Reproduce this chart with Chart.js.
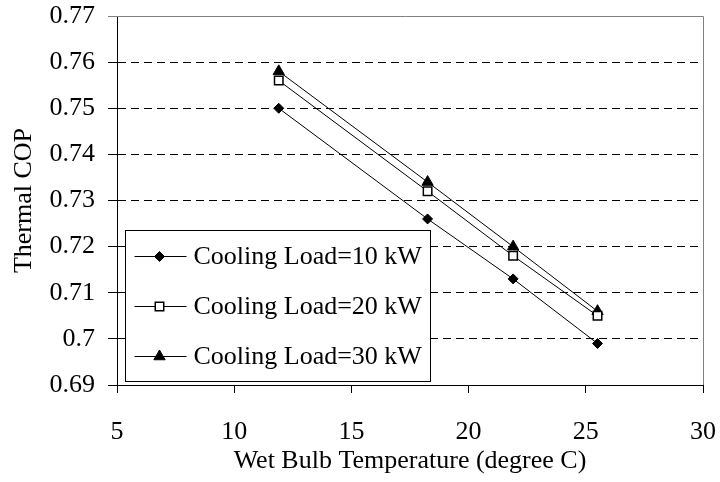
<!DOCTYPE html>
<html>
<head>
<meta charset="utf-8">
<script src="https://cdn.jsdelivr.net/npm/chart.js@4.4.1/dist/chart.umd.min.js"></script>
<style>
  body { margin: 0; background: #fff; }
  #chart_cop { display: block; }
</style>
</head>
<body>
<canvas id="chart_cop" width="720" height="482"></canvas>
<script>
// Thermal COP against wet bulb temperature, one line per cooling load
const wetBulb = [11.9, 18.25, 21.9, 25.5];
const load10 = [0.750, 0.726, 0.713, 0.699];
const load20 = [0.756, 0.732, 0.718, 0.705];
const load30 = [0.758, 0.734, 0.720, 0.706];
const seriesNames = ['Cooling Load=10 kW', 'Cooling Load=20 kW', 'Cooling Load=30 kW'];
const xTicks = [5, 10, 15, 20, 25, 30];
const yTicks = [0.69, 0.70, 0.71, 0.72, 0.73, 0.74, 0.75, 0.76, 0.77];

const FONT = 'Liberation Serif, Times New Roman, serif';

function points(ys) {
    return wetBulb.map((x, i) => ({x: x, y: ys[i]}));
}

function series(name, ys, style, radius, fill, bw) {
    return {
        label: name,
        data: points(ys),
        borderColor: '#000',
        borderWidth: 1,
        pointStyle: style,
        pointRadius: radius,
        pointBorderWidth: bw,
        pointBackgroundColor: fill,
        pointBorderColor: '#000',
        tension: 0
    };
}

// tick label overflow is not wanted, layout padding places the plot
function noOverflow(s) {
    s.paddingTop = 0;
    s.paddingBottom = 0;
    s.paddingLeft = 0;
    s.paddingRight = 0;
}

// gray frame on top and right like excel plot area
const frame = {
    id: 'frame',
    beforeDatasetsDraw(chart) {
        const {ctx, chartArea: a} = chart;
        const top = Math.round(a.top) + 0.5, right = Math.round(a.right) + 0.5;
        ctx.save();
        ctx.strokeStyle = '#808080';
        ctx.lineWidth = 1;
        ctx.beginPath();
        ctx.moveTo(a.left - 9, top);
        ctx.lineTo(right, top);
        ctx.lineTo(right, a.bottom);
        ctx.stroke();
        ctx.restore();
    }
};

// legend box inside the plot, bottom left
const legendBox = {
    id: 'legendBox',
    afterDatasetsDraw(chart) {
        const {ctx, chartArea: a} = chart;
        const w = 305, h = 151;
        const x0 = Math.round(a.left) + 8.5;
        const y0 = Math.round(a.bottom) - 3.5 - h;
        ctx.save();
        ctx.fillStyle = '#fff';
        ctx.fillRect(x0, y0, w, h);
        ctx.strokeStyle = '#000';
        ctx.lineWidth = 1;
        ctx.strokeRect(x0, y0, w, h);
        chart.data.datasets.forEach((ds, i) => {
            const cy = y0 + 26 + i * 50;
            ctx.strokeStyle = '#000';
            ctx.lineWidth = 1;
            ctx.beginPath();
            ctx.moveTo(x0 + 9, cy);
            ctx.lineTo(x0 + 61, cy);
            ctx.stroke();
            ctx.fillStyle = ds.pointBackgroundColor;
            ctx.lineWidth = ds.pointBorderWidth;
            Chart.helpers.drawPoint(ctx, {
                pointStyle: ds.pointStyle,
                radius: ds.pointRadius,
                borderWidth: ds.pointBorderWidth,
                rotation: 0
            }, x0 + 34, cy);
            ctx.fillStyle = '#000';
            ctx.font = '26px ' + FONT;
            ctx.textBaseline = 'middle';
            ctx.textAlign = 'left';
            ctx.fillText(ds.label, x0 + 68, cy + 1);
        });
        ctx.restore();
    }
};

const ctx = document.getElementById('chart_cop').getContext('2d');
new Chart(ctx, {
    type: 'line',
    data: {
        datasets: [
            series(seriesNames[0], load10, 'rectRot', 5, '#000', 1),
            series(seriesNames[1], load20, 'rect', 6, '#fff', 1.5),
            series(seriesNames[2], load30, 'triangle', 6.5, '#000', 1)
        ]
    },
    options: {
        responsive: false,
        animation: false,
        devicePixelRatio: 1,
        layout: {padding: {left: 0, right: 17, top: 16, bottom: 0}},
        plugins: {
            legend: {display: false},
            tooltip: {enabled: false}
        },
        scales: {
            x: {
                type: 'linear',
                min: 5,
                max: 30,
                afterBuildTicks: s => { s.ticks = xTicks.map(v => ({value: v})); },
                afterFit: s => { s.height = 97; noOverflow(s); },
                ticks: {
                    color: '#000',
                    font: {family: FONT, size: 26},
                    padding: 24,
                    maxRotation: 0
                },
                grid: {
                    drawOnChartArea: false,
                    drawTicks: true,
                    tickLength: 8,
                    tickColor: '#000'
                },
                border: {color: '#000', width: 1},
                title: {
                    display: true,
                    text: 'Wet Bulb Temperature (degree C)',
                    color: '#000',
                    font: {family: FONT, size: 26, lineHeight: 1},
                    padding: {top: 0, bottom: 8}
                }
            },
            y: {
                min: 0.69,
                max: 0.77,
                afterBuildTicks: s => { s.ticks = yTicks.map(v => ({value: v})); },
                afterFit: s => { s.width = 117; noOverflow(s); },
                ticks: {
                    color: '#000',
                    font: {family: FONT, size: 26},
                    padding: 13,
                    callback: v => Number(v.toFixed(2)).toString()
                },
                grid: {
                    color: c => (c.tick && c.tick.value > 0.765) ? 'rgba(0,0,0,0)' : '#000',
                    tickColor: '#000',
                    tickLength: 9,
                    tickBorderDash: []
                },
                border: {color: '#000', width: 1, dash: [8, 5]},
                title: {
                    display: true,
                    text: 'Thermal COP',
                    color: '#000',
                    font: {family: FONT, size: 26, lineHeight: 1},
                    padding: {top: 11, bottom: 0}
                }
            }
        }
    },
    plugins: [frame, legendBox]
});
</script>
</body>
</html>
